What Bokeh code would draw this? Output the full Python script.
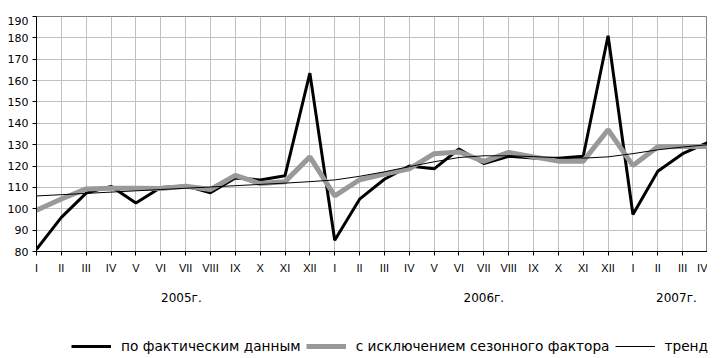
from bokeh.plotting import figure
from bokeh.models import (Range1d, FixedTicker, Legend, LegendItem, ColumnDataSource,
                          LinearAxis, Spacer)
from bokeh.layouts import column, row
from bokeh.embed import file_html
from bokeh.resources import INLINE

# ---- data ----
months = ["I", "II", "III", "IV", "V", "VI", "VII", "VIII", "IX", "X", "XI", "XII",
          "I", "II", "III", "IV", "V", "VI", "VII", "VIII", "IX", "X", "XI", "XII",
          "I", "II", "III", "IV"]
years = ["2005г.", "2006г.", "2007г."]
actual = [81.0, 96.0, 107.3, 110.5, 102.7, 110.0, 110.7, 107.5, 114.4, 113.5, 115.5, 163.5,
          85.3, 104.5, 113.8, 120.0, 118.7, 128.0, 121.2, 124.6, 123.8, 123.6, 124.6, 181.0,
          97.3, 117.6, 125.8, 131.0]
adjusted = [99.3, 104.6, 109.3, 109.6, 109.6, 109.5, 110.5, 109.0, 115.6, 111.8, 112.7, 124.3,
            106.0, 113.6, 116.2, 118.7, 125.8, 126.6, 122.2, 126.4, 124.3, 122.3, 122.3, 137.0,
            120.2, 129.0, 129.2, 129.2]
trend = [106.0, 106.6, 107.2, 107.8, 108.4, 109.0, 109.6, 110.2, 110.8, 111.4, 112.0, 112.7,
         113.5, 115.2, 117.3, 119.7, 122.0, 124.0, 124.8, 124.8, 124.4, 123.9, 123.7, 124.3,
         125.8, 127.6, 128.9, 130.0]
y_ticks = [80, 90, 100, 110, 120, 130, 140, 150, 160, 170, 180, 190]
series_names = ["по фактическим данным", "с исключением сезонного фактора", "тренд"]

x = list(range(len(months)))
src = ColumnDataSource(dict(x=x, actual=actual, adjusted=adjusted, trend=trend))

p = figure(frame_width=671, frame_height=235,
           x_range=Range1d(0, len(months) - 1), y_range=Range1d(y_ticks[0], y_ticks[-1]),
           output_backend="svg", toolbar_location=None,
           min_border=0)
p.background_fill_color = "white"
p.border_fill_color = "white"
p.outline_line_color = "#808080"
p.outline_line_width = 1

# grid
p.xgrid.ticker = FixedTicker(ticks=x)
p.ygrid.ticker = FixedTicker(ticks=y_ticks)
for g in (p.xgrid, p.ygrid):
    g.grid_line_color = "#c0c0c0"
    g.grid_line_width = 1

# axes
p.xaxis.ticker = FixedTicker(ticks=x)
p.xaxis.major_label_overrides = {i: m for i, m in enumerate(months)}
p.yaxis.ticker = FixedTicker(ticks=y_ticks)
for ax in (p.xaxis, p.yaxis):
    ax.axis_line_color = "black"
    ax.axis_line_width = 1
    ax.major_tick_line_color = "black"
    ax.major_tick_out = 4
    ax.major_tick_in = 0
    ax.minor_tick_line_color = None
    ax.major_label_text_color = "black"
p.xaxis.major_label_text_font = "Liberation Sans"
p.xaxis.major_label_text_font_size = "11px"
p.xaxis.major_label_standoff = 6
p.yaxis.major_label_text_font = "DejaVu Sans"
p.yaxis.major_label_text_font_size = "11px"
p.yaxis.major_label_standoff = 4

# year axis (second row of labels), on a scaled copy of the month range
scale = 100
p.extra_x_ranges = {"yr": Range1d(0, (len(months) - 1) * scale)}
year_pos = [583, 1800, 2575]
yax = LinearAxis(x_range_name="yr", ticker=FixedTicker(ticks=year_pos),
                 major_label_overrides={v: t for v, t in zip(year_pos, years)},
                 axis_line_color=None, major_tick_line_color=None, minor_tick_line_color=None,
                 major_tick_out=0, major_tick_in=0, major_label_standoff=14,
                 major_label_text_font="DejaVu Sans", major_label_text_font_size="12px",
                 major_label_text_color="black")
p.add_layout(yax, "below")

styles = [dict(line_color="black", line_width=3),
          dict(line_color="#999999", line_width=5),
          dict(line_color="black", line_width=1)]
p.line("x", "actual", source=src, **styles[0])
p.line("x", "adjusted", source=src, **styles[1])
p.line("x", "trend", source=src, **styles[2])

# legend strip below the chart (its proxy lines lie outside the strip's visible range)
lf = figure(frame_width=711, frame_height=52, x_range=Range1d(0, 1), y_range=Range1d(0, 1),
            x_axis_type=None, y_axis_type=None, output_backend="svg",
            toolbar_location=None, min_border=0)
lf.outline_line_color = None
lf.background_fill_color = "white"
lf.border_fill_color = "white"
lf.xgrid.visible = False
lf.ygrid.visible = False
proxy = ColumnDataSource(dict(x=[-10, -9], y=[-10, -10]))
items = []
for name, st in zip(series_names, styles):
    r = lf.line("x", "y", source=proxy, **st)
    items.append(LegendItem(label=name, renderers=[r]))
legend = Legend(items=items, orientation="horizontal", location=(71, 5),
                glyph_width=40, glyph_height=14, label_height=14, label_standoff=10,
                spacing=5, padding=0, margin=0,
                border_line_color=None, background_fill_alpha=0,
                label_text_font="DejaVu Sans", label_text_font_size="13.7px",
                label_text_color="black")
lf.add_layout(legend)

layout = column(Spacer(height=16), row(Spacer(width=4), p), lf)
open("out.html", "w").write(file_html(layout, INLINE))
